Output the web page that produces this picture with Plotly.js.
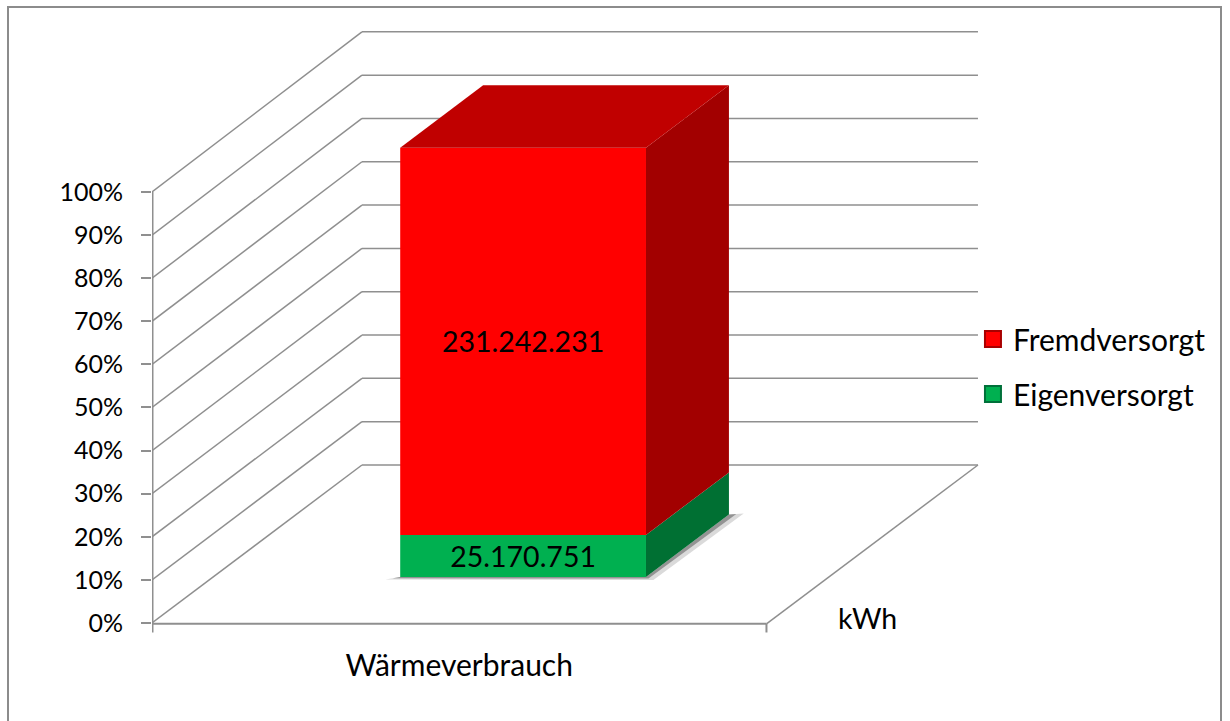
<!DOCTYPE html>
<html><head><meta charset="utf-8">
<script src="https://cdn.plot.ly/plotly-3.0.1.min.js"></script>
<style>
html,body{margin:0;padding:0;background:#fff;overflow:hidden}
#frame{position:absolute;left:7px;top:6px;width:1215px;height:730px;border:2px solid #8c8c8c;box-sizing:border-box}
#chart{position:absolute;left:0;top:0;width:1230px;height:721px}
</style></head><body>
<div id="frame"></div><div id="chart"></div>
<script>
const categories = ['Wärmeverbrauch'];
const seriesNames = ['Eigenversorgt', 'Fremdversorgt'];
const eigenversorgt = [25170751];
const fremdversorgt = [231242231];
const percentTicks = [0,10,20,30,40,50,60,70,80,90,100];
const depthAxisLabel = 'kWh';

const FONT = 'Lato, Carlito, Calibri, sans-serif';
const GRID = '#8f8f8f';
const COL = {eigen:{face:'#00b050',side:'#007033'}, fremd:{face:'#ff0000',side:'#a20000',top:'#c00000'}};
// oblique projection of the 3D box: depth z (0..1) shifts x and y on the axes
const DX = 0.3417, DY = 36.66;
const P = (x,y,z) => [x + z*DX, y + z*DY];
const poly = pts => ({x:[...pts.map(p=>p[0]),pts[0][0]], y:[...pts.map(p=>p[1]),pts[0][1]]});

const total = eigenversorgt[0] + fremdversorgt[0];
const BAR_H = 99.6;
const pctE = eigenversorgt[0]/total*BAR_H;
const XC = 0.5045, BW = 0.4, Z0 = 0.291, Z1 = 0.686;
const x0 = XC-BW/2, x1 = XC+BW/2;
const fmt = v => String(v).replace(/\B(?=(\d{3})+(?!\d))/g,'.');

const face = (y0,y1,color,val) => ({
  type:'bar', x:[XC+Z0*DX], y:[y1-y0], base:[y0+Z0*DY], width:[BW],
  marker:{color, line:{width:0}}, text:[fmt(val)], textposition:'inside', insidetextanchor:'middle',
  textangle:0, constraintext:'none', textfont:{family:FONT,size:28.5,color:'#000'},
  showlegend:false, hoverinfo:'skip'
});
const fillPoly = (pts,color) => Object.assign(poly(pts),{
  type:'scatter', mode:'lines', fill:'toself', fillcolor:color, line:{width:0},
  showlegend:false, hoverinfo:'skip'
});
const legendItem = (name,color,edge) => ({
  type:'scatter', mode:'markers', x:[null], y:[null], name, legendgroup:name,
  marker:{symbol:'square',size:16,color,line:{color:edge,width:2}}, hoverinfo:'skip'
});

const traces = [
  face(0,pctE,COL.eigen.face,eigenversorgt[0]),
  face(pctE,BAR_H,COL.fremd.face,fremdversorgt[0]),
  // soft floor shadow
  fillPoly([P(x0-0.024,-0.55,Z0),P(x1+0.012,-0.7,Z0),P(x1+0.024,0.25,Z1),P(x1,0,Z1),P(x1,0,Z0),P(x0,0,Z0)],'rgba(150,150,150,0.35)'),
  fillPoly([P(x0-0.012,-0.3,Z0),P(x1+0.004,-0.35,Z0),P(x1+0.012,0.12,Z1),P(x1,0,Z1),P(x1,0,Z0),P(x0,0,Z0)],'rgba(90,90,90,0.55)'),
  // depth faces
  fillPoly([P(x1,0,Z0),P(x1,0,Z1),P(x1,pctE,Z1),P(x1,pctE,Z0)],COL.eigen.side),
  fillPoly([P(x1,pctE,Z0),P(x1,pctE,Z1),P(x1,BAR_H,Z1),P(x1,BAR_H,Z0)],COL.fremd.side),
  fillPoly([P(x0,BAR_H,Z0),P(x1,BAR_H,Z0),P(x1,BAR_H,Z1),P(x0,BAR_H,Z1)],COL.fremd.top),
  legendItem(seriesNames[1],COL.fremd.face,'#a80000'),
  legendItem(seriesNames[0],COL.eigen.face,'#00703a')
];

// walls, floor and axis lines below the bars
const line = (a,b,w) => ({type:'line',layer:'below',xref:'x',yref:'y',x0:a[0],y0:a[1],x1:b[0],y1:b[1],line:{color:GRID,width:w||1.5}});
const XMAX = 1.3475, XEND = XMAX - 0.0033 - DX, BACK = 1.005;
const shapes = [];
percentTicks.forEach(t=>{
  shapes.push(line(P(0,t,0),P(0,t*BACK,1)));
  shapes.push(line(P(0,t*BACK,1),P(XEND,t*BACK,1)));
});
const FLOOR = -0.2;
shapes.push(line(P(0,0,0),P(0,100,0),3));
shapes.push(line(P(0,FLOOR,0),P(1,FLOOR,0),2));
shapes.push(line(P(1,FLOOR,0),P(XEND,0,1)));
shapes.push(line(P(0,FLOOR,0),P(0,FLOOR-2,0),3));
shapes.push(line(P(1,FLOOR,0),P(1,FLOOR-2,0),2));

const layout = {
  width:1230, height:721, margin:{l:152,r:250,t:20,b:85,pad:0},
  paper_bgcolor:'rgba(0,0,0,0)', plot_bgcolor:'rgba(0,0,0,0)',
  barmode:'overlay', font:{family:FONT,color:'#000'},
  xaxis:{range:[0,XMAX], fixedrange:true, showgrid:false, zeroline:false, showline:false, ticks:'',
         tickmode:'array', tickvals:[0.5], ticktext:categories, tickfont:{family:FONT,size:30},
         ticklabelstandoff:9, automargin:false},
  yaxis:{range:[-3.016,139.9], fixedrange:true, showgrid:false, zeroline:false, showline:false,
         tickmode:'array', tickvals:percentTicks, ticktext:percentTicks.map(v=>v+'%'),
         ticks:'outside', ticklen:10, tickwidth:2, tickcolor:GRID, tickfont:{family:FONT,size:25},
         ticklabelstandoff:13, automargin:false},
  legend:{x:0.9915, xanchor:'left', y:0.4376, yanchor:'middle', bgcolor:'rgba(0,0,0,0)', borderwidth:0,
          font:{family:FONT,size:30,color:'#000'}, tracegroupgap:13, traceorder:'grouped', itemsizing:'trace', itemclick:false, itemdoubleclick:false},
  annotations:[{xref:'x',yref:'y',x:1.165,y:1.2,text:depthAxisLabel,showarrow:false,font:{family:FONT,size:28.5,color:'#000'}}],
  shapes
};
Plotly.newPlot('chart',traces,layout,{displayModeBar:false,staticPlot:true});
</script>
</body></html>
